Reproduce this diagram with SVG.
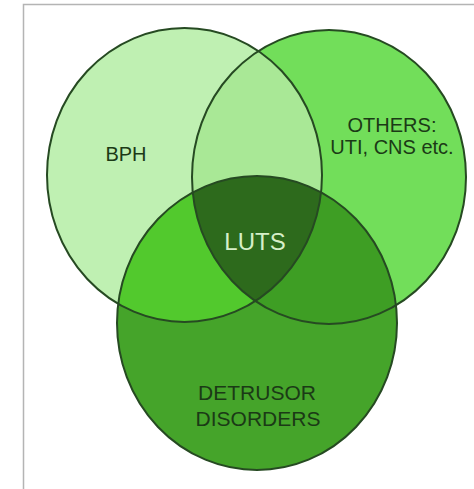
<svg xmlns="http://www.w3.org/2000/svg" width="474" height="489" viewBox="0 0 474 489">
<style>
.outline{fill:none;stroke:#264a22;stroke-width:2}
.lbl{font-family:"Liberation Sans",Arial,sans-serif;text-anchor:middle;fill:#1b3a16}
</style>
<defs>
<ellipse id="cL" cx="184.5" cy="175" rx="137.5" ry="147"/>
<ellipse id="cR" cx="329" cy="177" rx="137" ry="147"/>
<ellipse id="cB" cx="257" cy="323" rx="140" ry="147"/>
<clipPath id="clipL"><use href="#cL"/></clipPath>
<clipPath id="clipR"><use href="#cR"/></clipPath>
</defs>
<rect x="0" y="0" width="474" height="489" fill="#ffffff"/>
<rect x="23.5" y="4.5" width="452" height="486" fill="none" stroke="#b4b4b4" stroke-width="1.5"/>
<g id="regions">
<use href="#cL" fill="#bff0b2"/>
<use href="#cR" fill="#72de5a"/>
<use href="#cR" fill="#a9e896" clip-path="url(#clipL)"/>
<use href="#cB" fill="#45a42a"/>
<use href="#cB" fill="#52c92d" clip-path="url(#clipL)"/>
<use href="#cB" fill="#3e9e24" clip-path="url(#clipR)"/>
<g clip-path="url(#clipL)"><use href="#cB" fill="#2d6a1c" clip-path="url(#clipR)"/></g>
</g>
<g id="bph">
<use href="#cL" class="outline"/>
<text class="lbl" x="126" y="161" font-size="20">BPH</text>
</g>
<g id="others">
<use href="#cR" class="outline"/>
<text class="lbl" x="392" y="132" font-size="20">OTHERS:</text>
<text class="lbl" x="392" y="154" font-size="20">UTI, CNS etc.</text>
</g>
<g id="detrusor">
<use href="#cB" class="outline"/>
<text class="lbl" x="257" y="400" font-size="21">DETRUSOR</text>
<text class="lbl" x="258" y="426" font-size="21">DISORDERS</text>
</g>
<g id="luts">
<text class="lbl" x="255" y="250" font-size="24" style="fill:#d6efc8">LUTS</text>
</g>
<g id="connectors"/>
</svg>
